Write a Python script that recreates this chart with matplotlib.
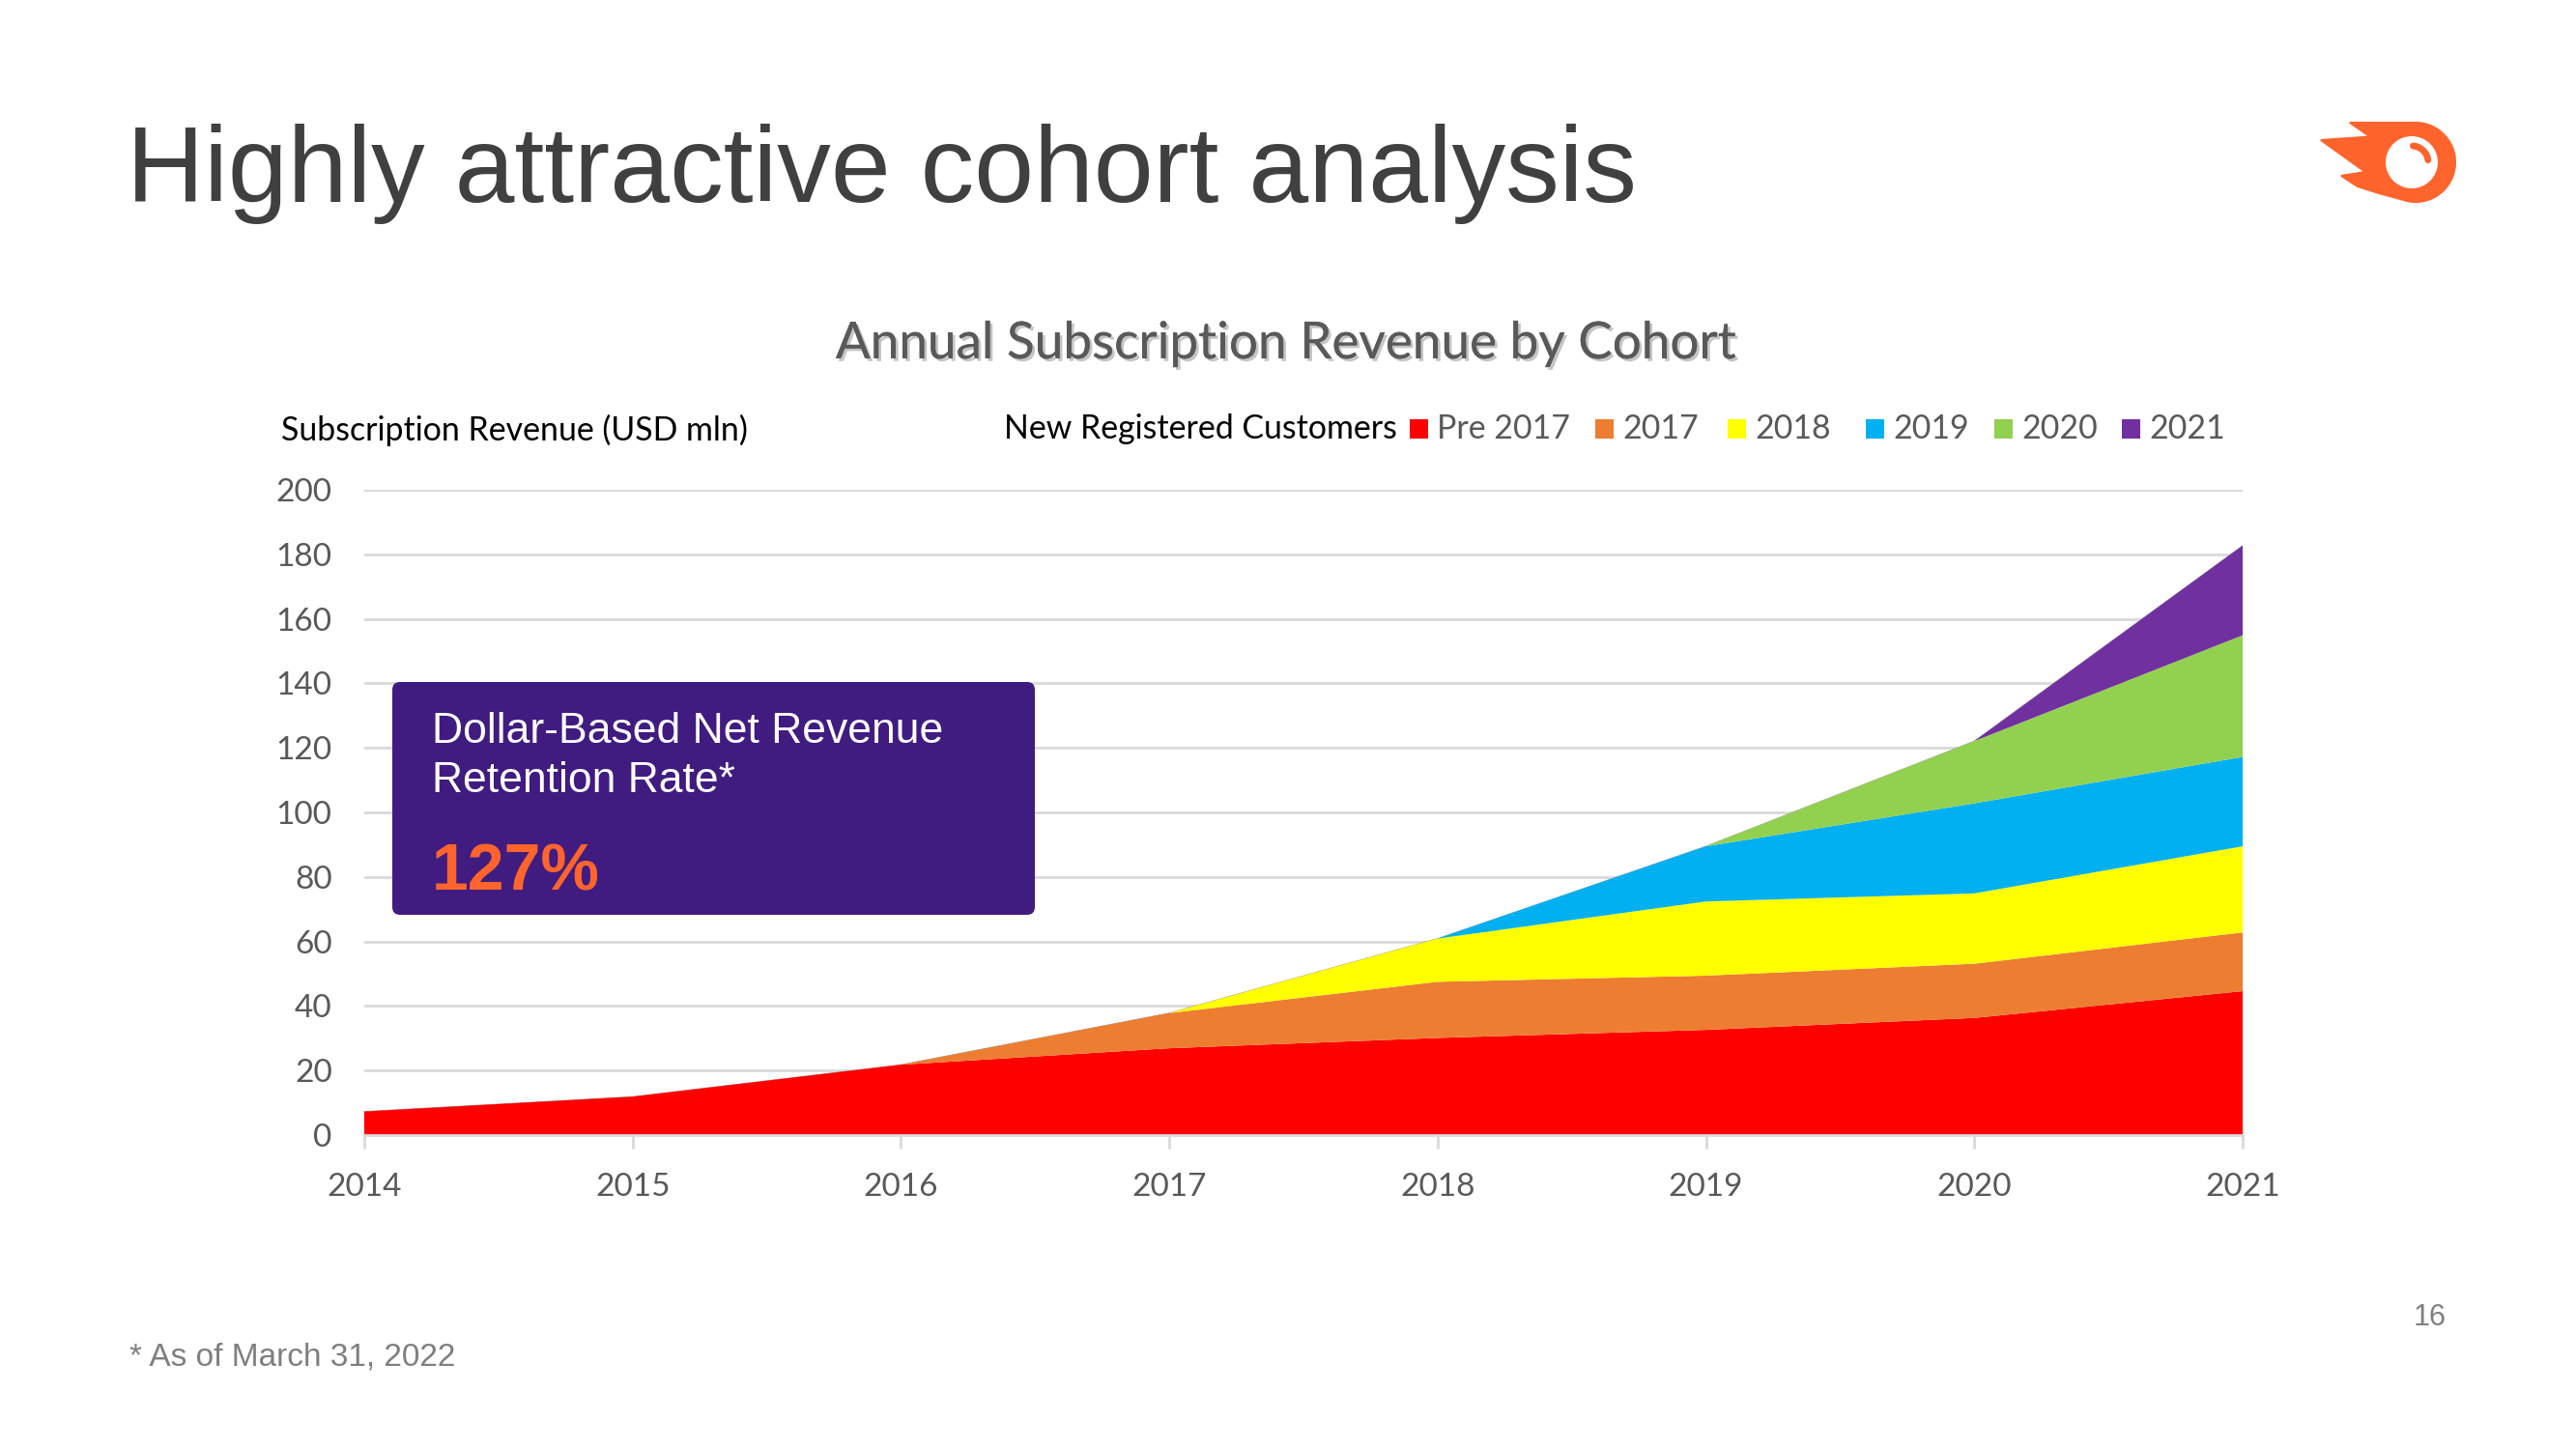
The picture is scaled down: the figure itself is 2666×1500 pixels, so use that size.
import numpy as np
import matplotlib
matplotlib.use("Agg")
import matplotlib.pyplot as plt
from matplotlib.patches import FancyBboxPatch, Rectangle, Polygon, Circle
import matplotlib.patheffects as pe

# data (USD mln, stacked by cohort)
years = [2014, 2015, 2016, 2017, 2018, 2019, 2020, 2021]
pre_2017 = [7.3, 11.9, 21.8, 26.9, 30.1, 32.6, 36.3, 44.6]
cohort_2017 = [0, 0, 0, 10.9, 17.4, 16.8, 16.8, 18.2]
cohort_2018 = [0, 0, 0, 0, 13.4, 23.0, 21.8, 26.7]
cohort_2019 = [0, 0, 0, 0, 0, 17.1, 27.9, 27.7]
cohort_2020 = [0, 0, 0, 0, 0, 0, 19.3, 37.7]
cohort_2021 = [0, 0, 0, 0, 0, 0, 0, 27.8]

series_labels = ["Pre 2017", "2017", "2018", "2019", "2020", "2021"]
series_colors = ["#FF0000", "#ED7D31", "#FFFF00", "#00B0F0", "#92D050", "#7030A0"]
y_ticks = [0, 20, 40, 60, 80, 100, 120, 140, 160, 180, 200]

CHART_FONT = "Lato"
SLIDE_FONT = "Liberation Sans"
ORANGE = "#FF642D"

fig = plt.figure(figsize=(26.66, 15), dpi=100)
fig.patch.set_facecolor("white")

# main chart, placed in pixel terms of the slide
W, H = 2666, 1500
x0, x1, y0, y1 = 377, 2321, 1175, 507
ax = fig.add_axes([x0 / W, 1 - y0 / H, (x1 - x0) / W, (y0 - y1) / H])

polys = ax.stackplot(years, pre_2017, cohort_2017, cohort_2018, cohort_2019,
                     cohort_2020, cohort_2021, colors=series_colors,
                     labels=series_labels, linewidth=0, zorder=3)
# faint grey outline on top where the layers still have zero height
ax.plot(years, np.sum([pre_2017, cohort_2017, cohort_2018, cohort_2019,
                       cohort_2020, cohort_2021], axis=0),
        color="#9A9A9A", lw=0.6, zorder=2)

ax.set_xlim(years[0], years[-1])
ax.set_ylim(0, 200)
ax.set_yticks(y_ticks)
ax.set_xticks(years)
ax.grid(axis="y", color="#D9D9D9", linewidth=2, zorder=0)
ax.set_axisbelow(True)
for s in ["top", "right", "left"]:
    ax.spines[s].set_visible(False)
ax.spines["bottom"].set_color("#D9D9D9")
ax.spines["bottom"].set_linewidth(2)
ax.spines["bottom"].set_zorder(4)
ax.tick_params(axis="y", length=0, pad=24, labelsize=24, labelcolor="#595959")
ax.tick_params(axis="x", length=10, width=2, color="#D9D9D9", pad=18,
               labelsize=24, labelcolor="#595959")
for lab in ax.get_xticklabels() + ax.get_yticklabels():
    lab.set_fontfamily(CHART_FONT)

# overlay in slide pixels for all the decoration
ov = fig.add_axes([0, 0, 1, 1], zorder=10)
ov.set_xlim(0, W)
ov.set_ylim(H, 0)
ov.axis("off")
ov.patch.set_alpha(0)

ov.text(131, 209, "Highly attractive cohort analysis", fontsize=80,
        family=SLIDE_FONT, color="#404040", va="baseline", ha="left")

ov.text(1331, 371, "Annual Subscription Revenue by Cohort", fontsize=38.2,
        family=CHART_FONT, color="#595959", ha="center", va="baseline",
        path_effects=[pe.withSimplePatchShadow(offset=(2, -2), alpha=0.25),
                      pe.Normal()])

ov.text(291, 456, "Subscription Revenue (USD mln)", fontsize=24.4,
        family=CHART_FONT, color="black", ha="left", va="baseline")

# legend row
ov.text(1039, 454, "New Registered Customers", fontsize=24.4,
        family=CHART_FONT, color="black", ha="left", va="baseline")
legend_x = [1459, 1651, 1788, 1931, 2064, 2196]
for lx, lab, col in zip(legend_x, series_labels, series_colors):
    ov.add_patch(Rectangle((lx, 434), 19, 20, facecolor=col, edgecolor="none"))
    ov.text(lx + 28, 454, lab, fontsize=24.4, family=CHART_FONT,
            color="#595959", ha="left", va="baseline")

# retention box
ov.add_patch(FancyBboxPatch((406, 706), 665, 241,
                            boxstyle="round,pad=0,rounding_size=8",
                            facecolor="#401B80", edgecolor="none"))
ov.text(447, 769, "Dollar-Based Net Revenue", fontsize=32, family=SLIDE_FONT,
        color="white", ha="left", va="baseline")
ov.text(447, 820, "Retention Rate*", fontsize=32, family=SLIDE_FONT,
        color="white", ha="left", va="baseline")
ov.text(447, 922, "127%", fontsize=49, family=SLIDE_FONT, weight="bold",
        color=ORANGE, ha="left", va="baseline")

# footer
ov.text(134, 1413, "* As of March 31, 2022", fontsize=24, family=SLIDE_FONT,
        color="#7F7F7F", ha="left", va="baseline")
ov.text(2532, 1372, "16", fontsize=22, family=SLIDE_FONT,
        color="#7F7F7F", ha="right", va="baseline")

# logo: comet shape with ring
cx, cy, r = 2500, 168, 41
ang = np.radians(np.linspace(-90, 110, 40))
arc = np.column_stack([cx + r * np.cos(ang), cy + r * np.sin(ang)])
tail = np.array([[2462, 200], [2440, 193], [2423, 182], [2448, 178],
                 [2402, 145], [2453, 141.5], [2432, 127]])
ov.add_patch(Polygon(np.vstack([arc, tail]), closed=True,
                     facecolor=ORANGE, edgecolor=ORANGE, linewidth=1.5))
ov.add_patch(Circle((2496, 168), 27, facecolor="white", edgecolor="none"))
a2 = np.radians(np.linspace(-85, -8, 30))
ov.plot(2496 + 17 * np.cos(a2), 168 + 17 * np.sin(a2), color=ORANGE,
        lw=5, solid_capstyle="round")

fig.savefig("out.png", dpi=100, facecolor="white")
